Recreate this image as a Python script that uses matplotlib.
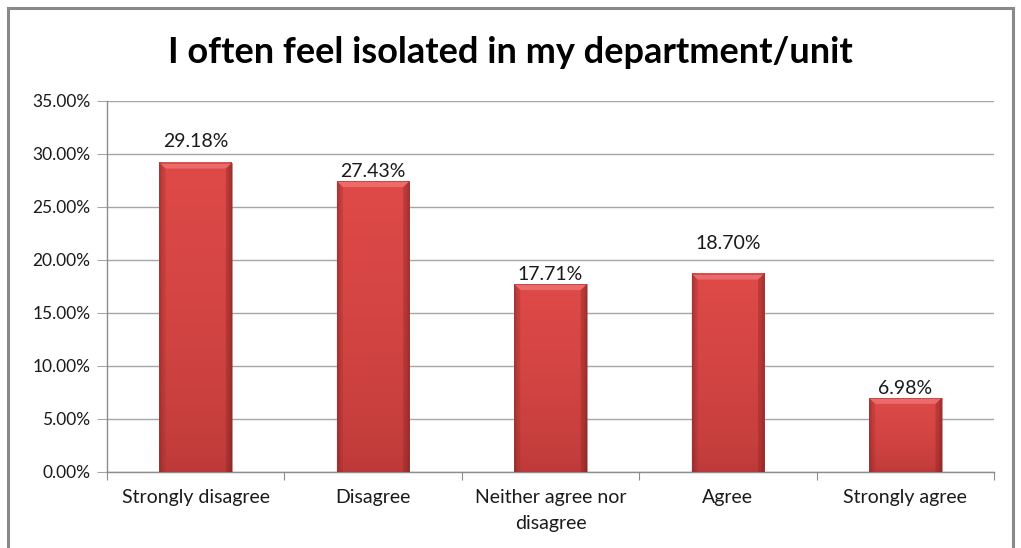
import matplotlib.pyplot as plt
import numpy as np
from matplotlib.patches import Polygon
from matplotlib.lines import Line2D
from matplotlib.ticker import FuncFormatter, MultipleLocator

title = "I often feel isolated in my department/unit"
categories = ["Strongly disagree", "Disagree", "Neither agree nor\ndisagree", "Agree", "Strongly agree"]
shares = [29.18, 27.43, 17.71, 18.70, 6.98]
# extra lift (points) for the value labels that sit higher above their bar
label_lift = [8, 0, 0, 15, 0]

plt.rcParams["font.family"] = ["Lato", "DejaVu Sans"]

fig = plt.figure(figsize=(10.21, 5.48), dpi=100)
ax = fig.add_axes([0.1048, 0.1387, 0.8688, 0.6770])

# outer chart frame (top, left, right)
frame_kw = dict(color="#8a8a8a", lw=2.2, transform=fig.transFigure, clip_on=False)
x0f, x1f, ytf = 8 / 1021, 1013 / 1021, 1 - 8 / 548
fig.add_artist(Line2D([x0f, x1f], [ytf, ytf], **frame_kw))
fig.add_artist(Line2D([x0f, x0f], [ytf, 0], **frame_kw))
fig.add_artist(Line2D([x1f, x1f], [ytf, 0], **frame_kw))

ax.set_xlim(0, len(categories))
ax.set_ylim(0, 35)
ax.yaxis.set_major_locator(MultipleLocator(5))
ax.yaxis.set_major_formatter(FuncFormatter(lambda v, _: f"{v:.2f}%"))
ax.grid(axis="y", color="#a6a6a6", lw=1.0)
ax.set_axisbelow(True)
for side in ("top", "right"):
    ax.spines[side].set_visible(False)
for side in ("left", "bottom"):
    ax.spines[side].set_color("#8c8c8c")
    ax.spines[side].set_linewidth(1.0)

ax.set_xticks(np.arange(len(categories) + 1))
ax.set_xticklabels([])
ax.set_xticks(np.arange(len(categories)) + 0.5, minor=True)
ax.set_xticklabels(categories, minor=True, fontsize=14, color="#1a1a1a", linespacing=1.65)
ax.tick_params(axis="x", which="major", length=6, color="#8c8c8c", direction="out")
ax.tick_params(axis="x", which="minor", length=0, pad=12)
ax.tick_params(axis="y", length=7, color="#a6a6a6", labelsize=12.5, labelcolor="#1a1a1a", pad=5)

bar_w = 0.41
top_c = np.array([0.87, 0.29, 0.28])
bot_c = np.array([0.66, 0.19, 0.19])
for i, v in enumerate(shares):
    xl, xr = i + 0.5 - bar_w / 2, i + 0.5 + bar_w / 2
    # vertical gradient with darker side edges
    ny, nx = 200, 60
    t = np.linspace(1, 0, ny)[:, None]
    s = np.linspace(0, 1, nx)[None, :]
    edge = 1 - 0.22 * (np.clip(1 - s / 0.05, 0, 1) + np.clip(1 - (1 - s) / 0.05, 0, 1))
    base = bot_c + (top_c - bot_c) * (0.35 + 0.65 * t[..., None] ** 0.6)
    img = np.clip(base * edge[..., None], 0, 1)
    ax.imshow(img, extent=(xl, xr, 0, v), aspect="auto", zorder=3, interpolation="bilinear")
    # bevel at the top of the bar
    bx = 0.035
    by = 0.55
    ax.add_patch(Polygon([(xl, v), (xr, v), (xr - bx, v - by), (xl + bx, v - by)],
                         closed=True, fc="#ec6a6a", ec="none", zorder=4))
    ax.add_patch(Polygon([(xl, v), (xl + bx, v - by), (xl + bx, 0), (xl, 0)],
                         closed=True, fc="#9c2b2b", ec="none", alpha=0.3, zorder=4))
    ax.add_patch(Polygon([(xr, v), (xr - bx, v - by), (xr - bx, 0), (xr, 0)],
                         closed=True, fc="#8a2424", ec="none", alpha=0.4, zorder=4))
    ax.plot([xl, xr, xr, xl, xl], [0, 0, v, v, 0], color="#a33a3a", lw=0.4, zorder=5)
    ax.annotate(f"{v:.2f}%", (i + 0.5, v), xytext=(0, 1 + label_lift[i]),
                textcoords="offset points", ha="center", va="bottom",
                fontsize=14, color="#1a1a1a", zorder=6)

ax.set_xlim(0, len(categories))
fig.text(0.5, 0.905, title, ha="center", va="center", fontsize=26, fontweight="bold")

fig.savefig("out.png", dpi=100)
